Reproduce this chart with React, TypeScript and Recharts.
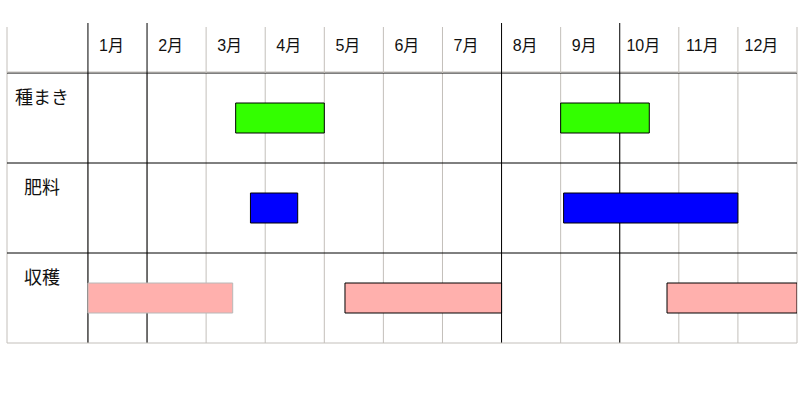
import React from "react";
import { BarChart, Bar, XAxis, YAxis, CartesianGrid, Cell } from "recharts";

// 作業名
const TASKS = ["種まき", "肥料", "収穫"];
// 月の見出し
const MONTHS = ["1月", "2月", "3月", "4月", "5月", "6月", "7月", "8月", "9月", "10月", "11月", "12月"];
// 作業期間 [開始, 終了] (0 = 1月初め, 12 = 12月末)
const SEEDING = [[2.5, 4.0], [8.0, 9.5]];
const FERTILIZER = [[2.75, 3.55], [8.05, 11.0]];
const HARVEST = [[0, 2.45], [4.35, 7.0], [9.8, 12]];

const PERIODS = [SEEDING, FERTILIZER, HARVEST];
const TASK_COLORS = ["#33ff00", "#0000ff", "#ffb0ad"];
const MAX_SEGMENTS = 3;

// stacked gantt: transparent gap + visible span
const data = TASKS.map((task, i) => {
  const row: Record<string, string | number> = { task };
  let prev = 0;
  for (let k = 0; k < MAX_SEGMENTS; k++) {
    const p = PERIODS[i][k];
    row[`gap${k}`] = p ? p[0] - prev : 0;
    row[`span${k}`] = p ? p[1] - p[0] : 0;
    if (p) prev = p[1];
  }
  return row;
});

// label column lives inside the plot, left of month 0
const LABEL_SPAN = 1.37;
const DOMAIN: [number, number] = [-LABEL_SPAN, 12];
const EDGE_TICKS = [-LABEL_SPAN, ...MONTHS.map((_, i) => i), 12];
const LABEL_TICKS = MONTHS.map((_, i) => i + 0.5);
const BOLD_EDGES = [0, 1, 7, 9];
const HEADER_H = 46;
const GRID = "#c3bfba";
const FONT = "'Liberation Sans', Arial, 'Noto Sans CJK JP', sans-serif";

// recharts 3 may hand over a d3 scale or its own wrapper
const applyScale = (scale: any, v: any): number | undefined => {
  if (!scale) return undefined;
  if (typeof scale === "function") return scale(v);
  if (typeof scale.map === "function") return scale.map(v);
  return undefined;
};

const EdgeTick = (props: any) => {
  const { x, y, payload } = props;
  const bold = BOLD_EDGES.includes(payload.value);
  return (
    <line
      x1={x}
      x2={x}
      y1={y}
      y2={y - HEADER_H - (bold ? 4 : 0)}
      stroke={bold ? "#000" : GRID}
      strokeWidth={1}
    />
  );
};

const TaskTick = (props: any) => {
  const { x, y, payload } = props;
  return (
    <text x={x} y={y - 20} dy="0.35em" textAnchor="middle" fontSize={18} fill="#111" fontFamily={FONT}>
      {payload.value}
    </text>
  );
};

const rowTops = ({ yAxis }: any) =>
  TASKS.map((t) => applyScale(yAxis?.scale, t)).filter((v): v is number => typeof v === "number" && !isNaN(v));

const boldLines = ({ xAxis }: any) =>
  BOLD_EDGES.map((m) => applyScale(xAxis?.scale, m)).filter((v): v is number => typeof v === "number" && !isNaN(v));

export default function App() {
  return (
    <div style={{ position: "absolute", left: 0, top: 0, width: 811, height: 396, background: "#fff" }}>
      <BarChart
        width={811}
        height={396}
        data={data}
        layout="vertical"
        margin={{ top: 26, right: 14, bottom: 52, left: 7 }}
        barSize={30}
      >
        <CartesianGrid xAxisId="edges" horizontal={false} stroke={GRID} />
        <CartesianGrid xAxisId="edges" horizontal={false} stroke="#000" verticalCoordinatesGenerator={boldLines} />
        <CartesianGrid xAxisId="edges" vertical={false} stroke="#000" horizontalCoordinatesGenerator={rowTops} />

        <XAxis
          xAxisId="edges"
          type="number"
          orientation="top"
          domain={DOMAIN}
          allowDataOverflow
          ticks={EDGE_TICKS}
          height={1}
          axisLine={false}
          tickLine={false}
          tickSize={0}
          tickMargin={0}
          tick={<EdgeTick />}
          interval={0}
        />
        <XAxis
          xAxisId="labels"
          type="number"
          orientation="top"
          domain={DOMAIN}
          allowDataOverflow
          ticks={LABEL_TICKS}
          height={45}
          axisLine={false}
          tickLine={false}
          tickSize={0}
          tickMargin={20}
          interval={0}
          tickFormatter={(v: number) => MONTHS[Math.floor(v)]}
          tick={{ fontSize: 16, fill: "#111", fontFamily: FONT, dx: -6 }}
        />
        <XAxis
          xAxisId="frame"
          type="number"
          orientation="top"
          domain={DOMAIN}
          allowDataOverflow
          ticks={[0]}
          height={1}
          axisLine={{ stroke: GRID }}
          tickLine={false}
          tick={false}
        />
        <XAxis
          xAxisId="bottom"
          type="number"
          orientation="bottom"
          domain={DOMAIN}
          allowDataOverflow
          ticks={[0]}
          height={1}
          axisLine={{ stroke: GRID }}
          tickLine={false}
          tick={false}
        />
        <YAxis
          type="category"
          dataKey="task"
          mirror
          width={81}
          axisLine={false}
          tickLine={false}
          tickSize={0}
          tickMargin={35}
          tick={<TaskTick />}
        />

        {Array.from({ length: MAX_SEGMENTS }).flatMap((_, k) => [
          <Bar key={`gap${k}`} dataKey={`gap${k}`} xAxisId="edges" stackId="t" fill="transparent" isAnimationActive={false} />,
          <Bar key={`span${k}`} dataKey={`span${k}`} xAxisId="edges" stackId="t" isAnimationActive={false}>
            {data.map((_, i) => (
              <Cell
                key={i}
                fill={TASK_COLORS[i]}
                stroke={i === 2 && k === 0 ? "#b8b8b8" : "#000"}
                strokeWidth={1}
              />
            ))}
          </Bar>,
        ])}
      </BarChart>
    </div>
  );
}
